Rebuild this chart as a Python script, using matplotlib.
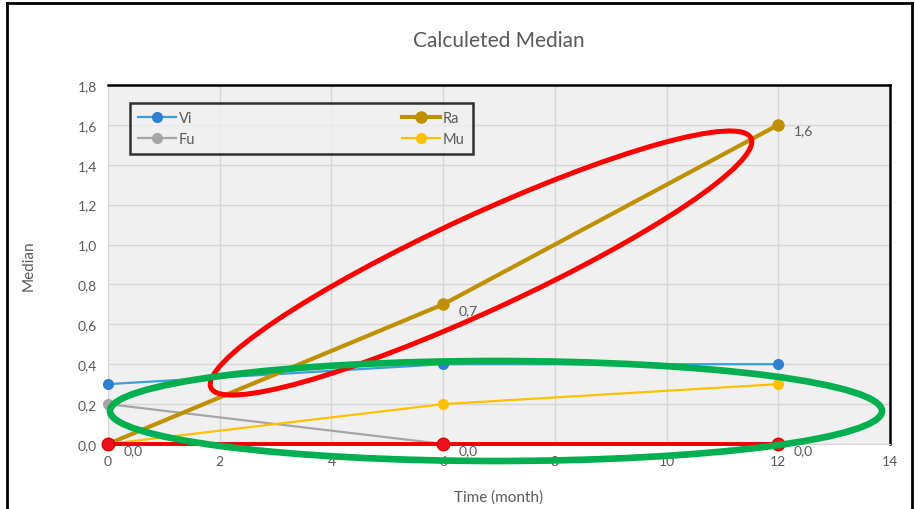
import matplotlib.pyplot as plt
import matplotlib.ticker as mticker
from matplotlib.patches import Ellipse
from matplotlib.lines import Line2D

plt.rcParams['font.family'] = ['Lato', 'DejaVu Sans']

months = [0, 6, 12]
vi = [0.3, 0.4, 0.4]
ra = [0.0, 0.7, 1.6]
fu = [0.2, 0.0, 0.0]
mu = [0.0, 0.2, 0.3]
zero_line = [0.0, 0.0, 0.0]

x_ticks = [0, 2, 4, 6, 8, 10, 12, 14]
y_ticks = [0.0, 0.2, 0.4, 0.6, 0.8, 1.0, 1.2, 1.4, 1.6, 1.8]

txt = '#595959'

fig = plt.figure(figsize=(9.15, 5.1), dpi=100)
ax = fig.add_axes([0.118, 0.1275, 0.8547, 0.7039])
ax.set_facecolor('#f0f0f0')

ax.plot(months, fu, color='#a5a5a5', lw=1.6, marker='o', ms=7, label='Fu', zorder=3, clip_on=False)
ax.plot(months, ra, color='#bf9000', lw=3, marker='o', ms=8, label='Ra', zorder=4, clip_on=False)
ax.plot(months, vi, color='#3a9ee0', lw=1.6, marker='o', ms=7, mfc='#2f7fd0', mec='#2f7fd0',
        label='Vi', zorder=3, clip_on=False)
ax.plot(months, mu, color='#ffc000', lw=1.6, marker='o', ms=7, label='Mu', zorder=3, clip_on=False)

# red highlight along zero
ax.plot(months, zero_line, color='#ee0000', lw=2.8, marker='o', ms=9, mfc='#ee1122', mec='#dd0000',
        zorder=5, clip_on=False)

# value labels
def val(v):
    return f'{v:.1f}'.replace('.', ',')

for xv, yv in zip(months, ra):
    ax.annotate(val(yv), (xv, yv), xytext=(11, -7), textcoords='offset points',
                fontsize=10, color=txt, zorder=6)
for xv, yv in zip(months[1:], zero_line[1:]):
    ax.annotate(val(yv), (xv, yv), xytext=(11, -7), textcoords='offset points',
                fontsize=10, color=txt, zorder=6)

ax.set_xlim(0, 14)
ax.set_ylim(0, 1.8)
ax.set_xticks(x_ticks)
ax.set_yticks(y_ticks)
ax.yaxis.set_major_formatter(mticker.FuncFormatter(lambda v, p: val(v)))
ax.grid(True, color='#d6d6d6', lw=1)
ax.set_axisbelow(True)
ax.tick_params(length=0, colors=txt, labelsize=10, pad=8)

for s in ['left', 'bottom']:
    ax.spines[s].set_color('#d6d6d6')
for s in ['top', 'right']:
    ax.spines[s].set_color('black')
    ax.spines[s].set_linewidth(1.8)

ax.set_title('Calculeted Median', fontsize=15, color=txt, pad=28)
ax.set_xlabel('Time (month)', fontsize=11, color=txt, labelpad=16)
ax.set_ylabel('Median', fontsize=11, color=txt, labelpad=30)

handles, labels = ax.get_legend_handles_labels()
order = [labels.index(n) for n in ['Vi', 'Fu', 'Ra', 'Mu']]
leg = ax.legend([handles[i] for i in order], [labels[i] for i in order],
                ncol=2, loc='upper left', bbox_to_anchor=(0.019, 0.97, 0.457, 0.0),
                mode='expand', frameon=True, fancybox=False, fontsize=10.5,
                handlelength=2.6, handletextpad=0.2, borderpad=0.55, labelspacing=0.45,
                labelcolor=txt)
leg.get_frame().set_edgecolor('black')
leg.get_frame().set_linewidth(1.8)
leg.get_frame().set_facecolor('#f0f0f0')

# highlight ellipses, drawn in pixel space
px = lambda x, y: (x / 100.0, (510 - y) / 100.0)
red = Ellipse(px(481, 264), 5.95, 0.95, angle=24.8, fill=False, ec='#ff0000', lw=3.6,
              transform=fig.dpi_scale_trans, zorder=10)
green = Ellipse(px(496, 412), 7.72, 1.0, angle=0, fill=False, ec='#00b050', lw=4.8,
                transform=fig.dpi_scale_trans, zorder=10)
fig.add_artist(red)
fig.add_artist(green)

# chart frame
for xs, ys in [([0.008, 0.008], [0.0, 0.993]), ([0.008, 0.997], [0.993, 0.993]),
               ([0.997, 0.997], [0.0, 0.993])]:
    fig.add_artist(Line2D(xs, ys, color='black', lw=2, transform=fig.transFigure))

fig.savefig('out.png', dpi=100)
